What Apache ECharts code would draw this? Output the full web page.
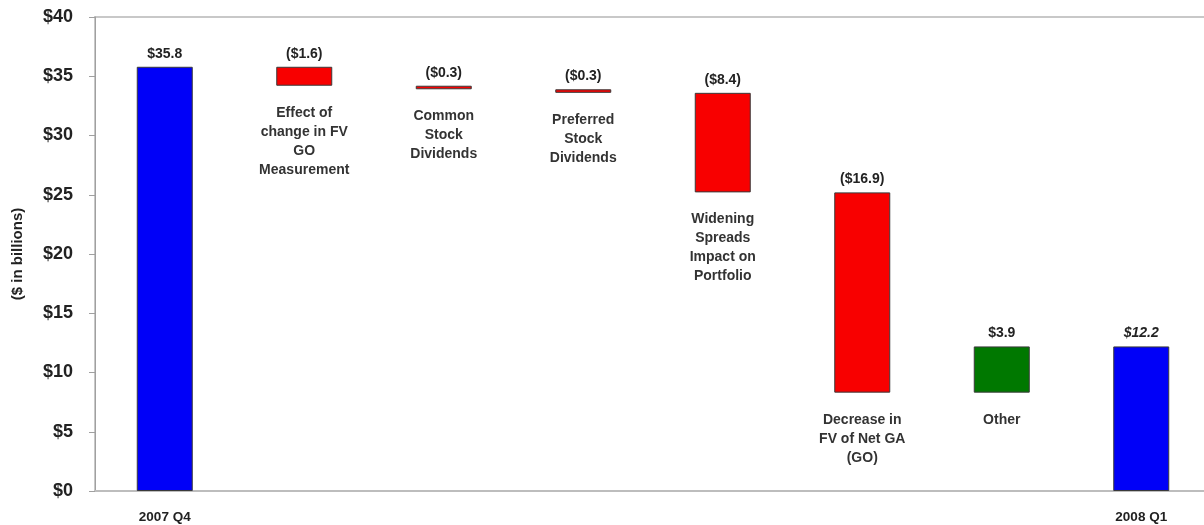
<!DOCTYPE html>
<html>
<head>
<meta charset="utf-8">
<script src="https://cdn.jsdelivr.net/npm/echarts@6/dist/echarts.min.js"></script>
<style>
html,body{margin:0;padding:0;background:#fff;overflow:hidden;width:1204px;height:525px;}
#chart{width:1230px;height:525px;}
</style>
</head>
<body>
<div id="chart"></div>
<script>
// ---- data ----
const axisLabels = ['2007 Q4', '', '', '', '', '', '', '2008 Q1'];
const descriptors = [
  '',
  'Effect of\nchange in FV\nGO\nMeasurement',
  'Common\nStock\nDividends',
  'Preferred\nStock\nDividends',
  'Widening\nSpreads\nImpact on\nPortfolio',
  'Decrease in\nFV of Net GA\n(GO)',
  'Other',
  ''
];
const kinds = ['total', 'change', 'change', 'change', 'change', 'change', 'change', 'total'];
const values = [35.8, -1.6, -0.3, -0.3, -8.4, -16.9, 3.9, 12.2];
const valueLabels = ['$35.8', '($1.6)', '($0.3)', '($0.3)', '($8.4)', '($16.9)', '$3.9', '$12.2'];
const yTicks = [0, 5, 10, 15, 20, 25, 30, 35, 40];

// ---- waterfall build ----
const colors = { total: '#0000F8', neg: '#F80000', pos: '#007800' };
let running = 0;
const baseData = [], barData = [];
values.forEach((v, i) => {
  if (kinds[i] === 'total') {
    running = v;
    baseData.push({ value: 0, label: { show: false } });
    barData.push({ value: v, itemStyle: { color: colors.total },
      label: { fontStyle: i === values.length - 1 ? 'italic' : 'normal' } });
  } else {
    const start = running, end = running + v;
    running = end;
    baseData.push({ value: Math.min(start, end),
      label: { show: true, formatter: descriptors[i] } });
    barData.push({ value: Math.abs(v), itemStyle: { color: v < 0 ? colors.neg : colors.pos } });
  }
});

const chart = echarts.init(document.getElementById('chart'), null, { renderer: 'canvas' });
const font = '"Liberation Sans", Arial, sans-serif';
chart.setOption({
  animation: false,
  backgroundColor: '#ffffff',
  grid: { left: 95, top: 17, width: 1116, height: 474, outerBoundsMode: 'none', containLabel: false,
    show: true, borderColor: '#c8c8c8', borderWidth: 2, backgroundColor: 'transparent' },
  xAxis: {
    type: 'category',
    data: axisLabels,
    axisLine: { show: true, lineStyle: { color: '#bdbdbd', width: 2 } },
    axisTick: { show: false },
    axisLabel: { interval: 0, margin: 19, color: '#222', fontFamily: font, fontWeight: 'bold', fontSize: 13.5 }
  },
  yAxis: {
    type: 'value',
    min: 0, max: 40, interval: 5,
    name: '($ in billions)',
    nameLocation: 'middle',
    nameGap: 70,
    nameRotate: 90,
    nameTextStyle: { color: '#222', fontFamily: font, fontWeight: 'bold', fontSize: 15 },
    axisLine: { show: true, lineStyle: { color: '#a0a0a0', width: 1 } },
    axisTick: { show: true, length: 6, lineStyle: { color: '#a0a0a0' } },
    splitLine: { show: false },
    axisLabel: {
      margin: 22,
      color: '#222', fontFamily: font, fontWeight: 'bold', fontSize: 18,
      formatter: v => yTicks.includes(v) ? '$' + v : ''
    }
  },
  series: [
    {
      type: 'bar', stack: 'w', barWidth: 56,
      itemStyle: { color: 'transparent', borderColor: 'transparent' },
      label: {
        show: false, position: 'insideTop', distance: 18,
        color: '#333', fontFamily: font, fontWeight: 'bold', fontSize: 14, lineHeight: 19, align: 'center'
      },
      emphasis: { disabled: true },
      data: baseData
    },
    {
      type: 'bar', stack: 'w', barWidth: 56,
      itemStyle: { borderColor: '#3a3a3a', borderWidth: 1 },
      label: {
        show: true, position: 'top', distance: 6,
        color: '#222', fontFamily: font, fontWeight: 'bold', fontSize: 14,
        formatter: p => valueLabels[p.dataIndex]
      },
      emphasis: { disabled: true },
      data: barData
    }
  ]
});
</script>
</body>
</html>
